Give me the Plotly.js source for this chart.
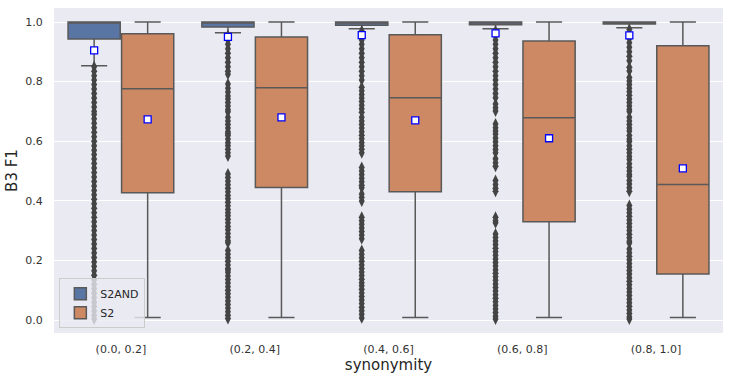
<!DOCTYPE html>
<html>
<head>
<meta charset="utf-8">
<script src="https://cdn.plot.ly/plotly-3.0.1.min.js"></script>
<style>
  html, body { margin: 0; padding: 0; background: #fff; }
  #chart { width: 729px; height: 379px; }
</style>
</head>
<body>
<div id="chart"></div>
<script>
// categories (synonymity bins)
const categories = ["(0.0, 0.2]", "(0.2, 0.4]", "(0.4, 0.6]", "(0.6, 0.8]", "(0.8, 1.0]"];

// S2AND box stats
const s2andLow = [0.853, 0.964, 0.977, 0.977, 0.981];
const s2andQ1 = [0.943, 0.983, 0.989, 0.991, 0.993];
const s2andMed = [1.0, 0.998, 0.998, 0.999, 1.0];
const s2andQ3 = [1.0, 1.0, 1.0, 1.0, 1.0];
const s2andHigh = [1.0, 1.0, 1.0, 1.0, 1.0];
const s2andMean = [0.905, 0.950, 0.956, 0.962, 0.955];

// S2 box stats
const s2Low = [0.008, 0.008, 0.008, 0.008, 0.008];
const s2Q1 = [0.427, 0.445, 0.430, 0.330, 0.154];
const s2Med = [0.776, 0.779, 0.746, 0.679, 0.455];
const s2Q3 = [0.961, 0.950, 0.957, 0.936, 0.920];
const s2High = [1.0, 1.0, 1.0, 1.0, 1.0];
const s2Mean = [0.673, 0.680, 0.670, 0.610, 0.509];

// S2AND outliers per bin
const s2andOutliers = [
  [0.850,0.835,0.820,0.805,0.790,0.775,0.760,0.745,0.730,0.715,0.700,0.690,
   0.675,0.660,0.645,0.630,0.615,0.600,0.585,0.570,0.555,0.540,0.525,0.510,0.495,0.480,
   0.465,0.450,0.435,0.420,0.405,0.390,0.375,0.360,0.345,0.330,0.315,0.300,0.285,0.270,
   0.255,0.240,0.225,0.210,0.195,0.180,0.165,0.150,0.135,0.120,0.105,0.090,0.075,0.060,
   0.045,0.030,0.015,0.003],
  [0.955,0.940,0.925,0.910,0.895,0.880,0.865,0.850,0.835,0.825,
   0.792,0.778,0.765,0.752,0.742,0.730,0.718,0.706,0.699,
   0.680,0.668,0.656,0.644,0.632,0.626,0.619,0.607,0.595,0.585,0.573,0.561,0.550,
   0.490,0.478,0.466,0.454,0.442,0.430,0.418,0.407,0.395,0.383,0.371,0.360,
   0.350,0.338,0.326,0.314,0.303,0.290,0.278,0.266,0.259,
   0.233,0.221,0.209,0.197,0.185,0.173,0.168,
   0.160,0.148,0.136,0.124,0.112,0.100,0.088,0.076,0.064,0.052,0.040,0.028,0.016,0.005],
  [0.970,0.955,0.940,0.925,0.910,0.895,0.880,0.865,0.850,0.835,0.820,0.805,
   0.781,0.769,0.757,0.745,0.733,0.721,0.709,0.697,
   0.680,0.668,0.656,0.644,0.632,0.620,0.608,0.596,0.585,0.573,0.561,
   0.512,0.500,0.488,0.476,0.464,0.452,0.444,0.423,0.411,0.399,
   0.345,0.333,0.321,0.309,0.297,0.285,0.273,
   0.233,0.221,0.209,0.197,0.185,0.173,0.161,0.149,0.137,0.125,
   0.115,0.103,0.091,0.079,0.067,0.055,0.043,0.031,0.019,0.007],
  [0.970,0.955,0.940,0.925,0.910,0.895,0.880,0.865,0.850,0.835,0.820,0.805,0.790,0.775,0.760,0.746,
   0.725,0.712,0.701,0.658,0.645,0.634,
   0.624,0.611,0.598,0.585,0.572,0.561,0.541,0.528,0.516,
   0.468,0.455,0.442,0.432,0.345,0.333,0.326,
   0.289,0.277,0.265,0.253,0.241,0.229,0.217,0.205,0.193,0.181,0.169,0.157,0.145,0.133,
   0.121,0.109,0.097,0.085,0.073,0.061,0.049,0.037,0.025,0.013,0.003],
  [0.975,0.960,0.945,0.930,0.915,0.900,0.885,0.870,0.848,0.836,
   0.814,0.802,0.790,0.778,0.766,0.754,0.742,0.730,0.718,0.706,0.700,
   0.680,0.668,0.656,0.644,0.634,0.619,0.607,0.599,
   0.585,0.573,0.561,0.549,0.539,0.524,0.512,0.500,0.488,0.482,
   0.468,0.456,0.444,0.432,
   0.384,0.372,0.360,0.348,0.336,0.324,0.312,0.300,0.288,0.276,0.264,0.258,
   0.238,0.226,0.214,0.202,0.190,0.178,0.166,0.154,0.142,0.130,0.118,0.106,0.094,
   0.082,0.070,0.058,0.046,0.034,0.022,0.010,0.003]
];

const blue = "#5975a4";
const orange = "#cc8963";
const lineGray = "#595959";

const s2andX = categories.map((c, i) => i - 0.2);
const s2X = categories.map((c, i) => i + 0.2);

const outX = [];
const outY = [];
s2andOutliers.forEach((vals, i) => {
  vals.forEach(v => { outX.push(i - 0.2); outY.push(v); });
});

const boxCommon = {
  type: "box",
  width: 0.39,
  whiskerwidth: 0.5,
  boxpoints: false,
  line: { color: lineGray, width: 1.5 },
  hoverinfo: "skip"
};

const data = [
  Object.assign({}, boxCommon, {
    name: "S2AND", x: s2andX,
    q1: s2andQ1, median: s2andMed, q3: s2andQ3,
    lowerfence: s2andLow, upperfence: s2andHigh,
    fillcolor: blue
  }),
  Object.assign({}, boxCommon, {
    name: "S2", x: s2X,
    q1: s2Q1, median: s2Med, q3: s2Q3,
    lowerfence: s2Low, upperfence: s2High,
    fillcolor: orange
  }),
  {
    type: "scatter", mode: "markers", x: outX, y: outY, showlegend: false,
    marker: { symbol: "diamond-tall", size: 8.5, color: "#444444" },
    hoverinfo: "skip"
  },
  {
    type: "scatter", mode: "markers",
    x: s2andX.concat(s2X), y: s2andMean.concat(s2Mean), showlegend: false,
    marker: { symbol: "square", size: 7, color: "#ffffff", line: { color: "#0000ff", width: 1.3 } },
    hoverinfo: "skip"
  }
];

const layout = {
  width: 729,
  height: 379,
  margin: { l: 54, r: 6, t: 8, b: 46 },
  paper_bgcolor: "#ffffff",
  plot_bgcolor: "#eaeaf2",
  font: { family: "DejaVu Sans, sans-serif", size: 11, color: "#333333" },
  boxmode: "overlay",
  showlegend: true,
  legend: {
    x: 0.008, y: 0.015, xanchor: "left", yanchor: "bottom",
    bgcolor: "rgba(234,234,242,0.8)",
    bordercolor: "#cccccc", borderwidth: 1,
    font: { size: 11, color: "#262626" },
    itemwidth: 30,
    tracegroupgap: 0
  },
  xaxis: {
    range: [-0.5, 4.5],
    tickvals: [0, 1, 2, 3, 4],
    ticktext: categories,
    showgrid: false, zeroline: false,
    ticks: "outside", ticklen: 6, tickcolor: "rgba(0,0,0,0)",
    title: { text: "synonymity", font: { size: 15, color: "#262626" }, standoff: 2 }
  },
  yaxis: {
    range: [-0.0436, 1.047],
    tickvals: [0, 0.2, 0.4, 0.6, 0.8, 1.0],
    tickformat: ".1f",
    gridcolor: "#ffffff", gridwidth: 1,
    zeroline: false,
    ticks: "outside", ticklen: 8, tickcolor: "rgba(0,0,0,0)",
    title: { text: "B3 F1", font: { size: 15, color: "#262626" }, standoff: 4 }
  }
};

Plotly.newPlot("chart", data, layout, { displayModeBar: false, staticPlot: true });
</script>
</body>
</html>
